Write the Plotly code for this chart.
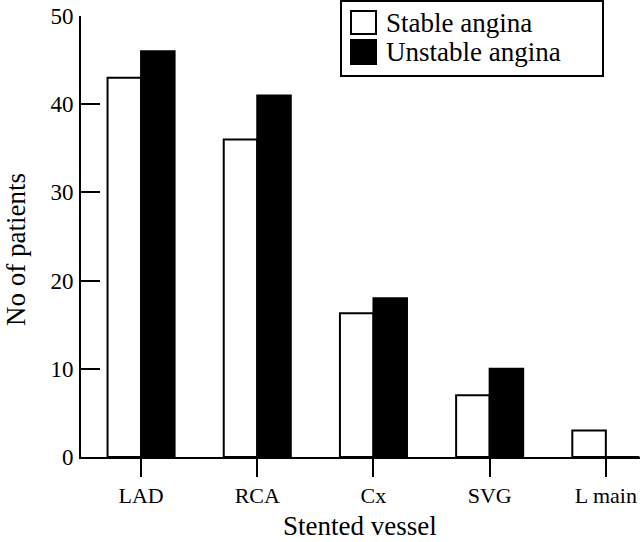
import plotly.graph_objects as go

categories = ["LAD", "RCA", "Cx", "SVG", "L main"]
stable = [43, 36, 16.3, 7, 3]
unstable = [46, 41, 18, 10, 0]
series_names = ["Stable angina", "Unstable angina"]
y_ticks = [0, 10, 20, 30, 40, 50]
x_title = "Stented vessel"
y_title = "No of patients"

FONT = "Liberation Serif, Times New Roman, serif"
W, H = 640, 542
L, R, T, B = 81, 0, 16, 85
pw, ph = W - L - R, H - T - B

def px(x):
    return (x - L) / pw

def py(y):
    return (H - B - y) / ph

fig = go.Figure()
fig.add_trace(go.Bar(x=categories, y=stable, name=series_names[0],
                     marker=dict(color="white", line=dict(color="black", width=2)),
                     showlegend=False))
fig.add_trace(go.Bar(x=categories, y=unstable, name=series_names[1],
                     marker=dict(color="black", line=dict(color="black", width=2)),
                     showlegend=False))

fig.update_layout(
    width=W, height=H,
    margin=dict(l=L, r=R, t=T, b=B, autoexpand=False),
    paper_bgcolor="white", plot_bgcolor="white",
    barmode="group", bargap=0.423, bargroupgap=0,
    font=dict(family=FONT, size=23, color="black"),
    showlegend=False,
)
fig.update_xaxes(
    range=[-0.517, 4.294], showline=True, linecolor="black", linewidth=2,
    ticks="outside", ticklen=18, tickwidth=2, tickcolor="black",
    showgrid=False, zeroline=False, automargin=False,
    tickfont=dict(family=FONT, size=22),
)
fig.update_yaxes(
    range=[0, 50], tickvals=y_ticks, showline=True, linecolor="black", linewidth=2,
    ticks="inside", ticklen=19, tickwidth=2, tickcolor="black",
    showgrid=False, zeroline=False, ticklabelstandoff=1, automargin=False,
    tickfont=dict(family=FONT, size=23),
)

# axis titles
fig.add_annotation(text=x_title, xref="paper", yref="paper", x=px(360), y=py(526),
                   xanchor="center", yanchor="middle", showarrow=False,
                   font=dict(family=FONT, size=27, color="black"))
fig.add_annotation(text=y_title, xref="paper", yref="paper", x=px(16), y=py(250),
                   xanchor="center", yanchor="middle", showarrow=False, textangle=-90,
                   font=dict(family=FONT, size=27, color="black"))

# legend box drawn in paper coordinates
shapes = [
    dict(type="rect", xref="paper", yref="paper", x0=px(341), x1=px(603), y0=py(76), y1=py(1),
         line=dict(color="black", width=2), fillcolor="white"),
    dict(type="rect", xref="paper", yref="paper", x0=px(351), x1=px(376), y0=py(34), y1=py(11),
         line=dict(color="black", width=2), fillcolor="white"),
    dict(type="rect", xref="paper", yref="paper", x0=px(351), x1=px(376), y0=py(64), y1=py(40),
         line=dict(color="black", width=2), fillcolor="black"),
]
fig.update_layout(shapes=shapes)
for name, yc in zip(series_names, [23, 52]):
    fig.add_annotation(text=name, xref="paper", yref="paper", x=px(384), y=py(yc),
                       xanchor="left", yanchor="middle", showarrow=False,
                       font=dict(family=FONT, size=27, color="black"))

fig.write_html("out.html", config={"displayModeBar": False},
               post_script="document.body.style.margin='0';")
